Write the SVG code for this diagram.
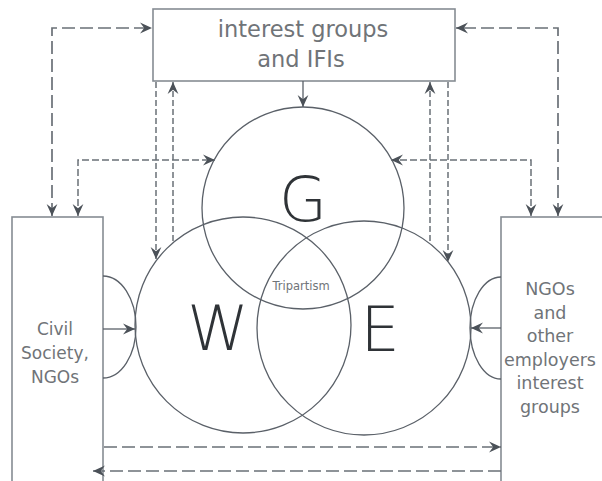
<svg xmlns="http://www.w3.org/2000/svg" width="602" height="481" viewBox="0 0 602 481">
<defs>
<marker id="ah" viewBox="0 0 10 10" markerUnits="userSpaceOnUse" markerWidth="12" markerHeight="12" refX="10" refY="5" orient="auto-start-reverse">
<path d="M0,0.5 L10,5 L0,9.5 L3.5,5 z" fill="#4b5158"/>
</marker>
<style>
.box{fill:#fff;stroke:#868c93;stroke-width:1.6}
.circ{fill:none;stroke:#5a6068;stroke-width:1.3}
.dl{fill:none;stroke:#6a7077;stroke-width:1.7;stroke-dasharray:13 5}
.ds{fill:none;stroke:#6a7077;stroke-width:1.5;stroke-dasharray:7 3}
.dv{fill:none;stroke:#6a7077;stroke-width:1.5;stroke-dasharray:6 3}
.sol{fill:none;stroke:#5a6068;stroke-width:1.3}
.lbl{font-family:"DejaVu Sans","Liberation Sans",sans-serif;fill:#707478;text-anchor:middle}
.big{font-family:"DejaVu Sans","Liberation Sans",sans-serif;font-weight:200;fill:#2f3337;text-anchor:middle;font-size:62px}
</style>
</defs>
<rect width="602" height="481" fill="#fff"/>
<g id="civil-society">
<rect class="box" x="12" y="217" width="91" height="290"/>
<text class="lbl" font-size="17" x="55" y="335">Civil</text>
<text class="lbl" font-size="17" x="55" y="359">Society,</text>
<text class="lbl" font-size="17" x="55" y="383">NGOs</text>
</g>
<g id="employers">
<rect class="box" x="501" y="217" width="130" height="290"/>
<text class="lbl" font-size="17.5" x="550" y="295">NGOs</text>
<text class="lbl" font-size="17.5" x="550" y="318.5">and</text>
<text class="lbl" font-size="17.5" x="550" y="342">other</text>
<text class="lbl" font-size="17.5" x="550" y="365.5">employers</text>
<text class="lbl" font-size="17.5" x="550" y="389">interest</text>
<text class="lbl" font-size="17.5" x="550" y="412.5">groups</text>
</g>
<g id="interest-groups">
<rect class="box" x="153" y="9" width="302" height="72"/>
<text class="lbl" font-size="22.5" x="303" y="37">interest groups</text>
<text class="lbl" font-size="22.5" x="301" y="67">and IFIs</text>
</g>
<g id="circle-G">
<circle class="circ" cx="303" cy="208" r="101"/>
<text class="big" x="303" y="221">G</text>
</g>
<g id="circle-W">
<circle class="circ" cx="243" cy="325" r="108"/>
<text class="big" x="218" y="350">W</text>
</g>
<g id="circle-E">
<circle class="circ" cx="364" cy="328" r="107"/>
<text class="big" x="380" y="351">E</text>
</g>
<g id="tripartism">
<text class="lbl" font-size="11.5" x="301" y="290" fill="#5a5e62">Tripartism</text>
</g>
<g id="connectors">
<path class="dl" d="M52,216 V28 H152" marker-start="url(#ah)" marker-end="url(#ah)"/>
<path class="ds" d="M78,216 V160 H215" marker-start="url(#ah)" marker-end="url(#ah)"/>
<path class="dl" d="M558,216 V28 H456" marker-start="url(#ah)" marker-end="url(#ah)"/>
<path class="ds" d="M531,216 V160 H391" marker-start="url(#ah)" marker-end="url(#ah)"/>
<path class="dv" d="M156,82 V259" marker-end="url(#ah)"/>
<path class="dv" d="M173,241 V82" marker-end="url(#ah)"/>
<path class="dv" d="M430,241 V82" marker-end="url(#ah)"/>
<path class="dv" d="M448,82 V262" marker-end="url(#ah)"/>
<path class="sol" d="M303,81 V107" marker-end="url(#ah)"/>
<path class="sol" d="M103,329 H135" marker-end="url(#ah)"/>
<path class="sol" d="M501,328 H471" marker-end="url(#ah)"/>
<path class="sol" d="M103,276 A33,51 0 0 1 103,378"/>
<path class="sol" d="M501,277 A31,51 0 0 0 501,379"/>
<path class="dl" d="M104,447 H501" marker-end="url(#ah)"/>
<path class="dl" d="M501,471 H93" marker-end="url(#ah)"/>
</g>
</svg>
